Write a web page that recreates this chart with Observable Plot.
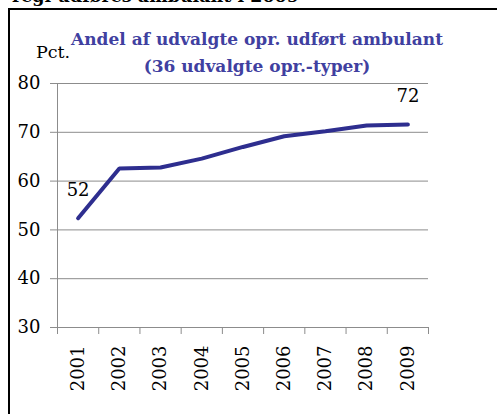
<!DOCTYPE html>
<html>
<head>
<meta charset="utf-8">
<script src="https://cdn.jsdelivr.net/npm/d3@7"></script>
<script src="https://cdn.jsdelivr.net/npm/@observablehq/plot@0.6"></script>
<style>
  html, body { margin: 0; padding: 0; background: #fff; }
  #wrap { position: relative; width: 497px; height: 414px; overflow: hidden; font-family: "DejaVu Serif", serif; }
  #heading { position: absolute; left: 12px; top: -14px; font-size: 17.5px; font-weight: bold; color: #000; white-space: nowrap; }
  #box { position: absolute; left: 8px; top: 8px; width: 600px; height: 600px; border-left: 2px solid #000; border-top: 2px solid #000; box-sizing: border-box; }
  #title { position: absolute; left: 57px; width: 400px; top: 26px; text-align: center; font-size: 17px; font-weight: bold; color: #4040a0; line-height: 27px; white-space: nowrap; }
  #unit { position: absolute; left: 36px; top: 42px; font-size: 17.5px; color: #000; }
  #chart { position: absolute; left: 0; top: 0; }
</style>
</head>
<body>
<div id="wrap">
  <div id="heading">regi udføres ambulant i 2009</div>
  <div id="box"></div>
  <div id="chart"></div>
  <div id="title">Andel af udvalgte opr. udført ambulant<br>(36 udvalgte opr.-typer)</div>
  <div id="unit">Pct.</div>
</div>
<script>
const years = [2001, 2002, 2003, 2004, 2005, 2006, 2007, 2008, 2009];
const values = [52.4, 62.6, 62.8, 64.6, 67.0, 69.2, 70.2, 71.4, 71.6];
const yTicks = [30, 40, 50, 60, 70, 80];
const labelValues = [52, null, null, null, null, null, null, null, 72];

const data = years.map((year, i) => ({year, value: values[i], label: labelValues[i]}));
const boundaries = [...years.map(y => y - 0.5), years[years.length - 1] + 0.5];

const chart = Plot.plot({
  width: 497,
  height: 414,
  marginLeft: 57,
  marginRight: 69,
  marginTop: 83,
  marginBottom: 87,
  style: { fontFamily: "'DejaVu Serif', serif", fontSize: "18px", color: "#000", background: "transparent" },
  x: { domain: [boundaries[0], boundaries[boundaries.length - 1]] },
  y: { domain: [30, 80] },
  marks: [
    Plot.gridY(yTicks, { stroke: "#8c8c8c", strokeOpacity: 1, strokeWidth: 1 }),
    Plot.ruleX([boundaries[0]], { stroke: "#8c8c8c", strokeWidth: 1 }),
    Plot.axisY(yTicks, { tickSize: 7, tickPadding: 10, stroke: "#8c8c8c", fill: "#000", fontSize: 18, label: null }),
    Plot.axisX(boundaries, { tickSize: 7, tickFormat: () => "", stroke: "#8c8c8c", label: null }),
    Plot.axisX(years, { tickSize: 0, tickRotate: -90, tickPadding: 18, tickFormat: d => String(d), fill: "#000", fontSize: 18, label: null }),
    Plot.line(data, { x: "year", y: "value", stroke: "#2e2e8f", strokeWidth: 4, strokeLinejoin: "miter" }),
    Plot.text(data.filter(d => d.label != null), { x: "year", y: "value", text: d => String(d.label), dy: -22, lineAnchor: "bottom", fill: "#000", fontSize: 18 })
  ]
});
document.getElementById("chart").appendChild(chart);
</script>
</body>
</html>
